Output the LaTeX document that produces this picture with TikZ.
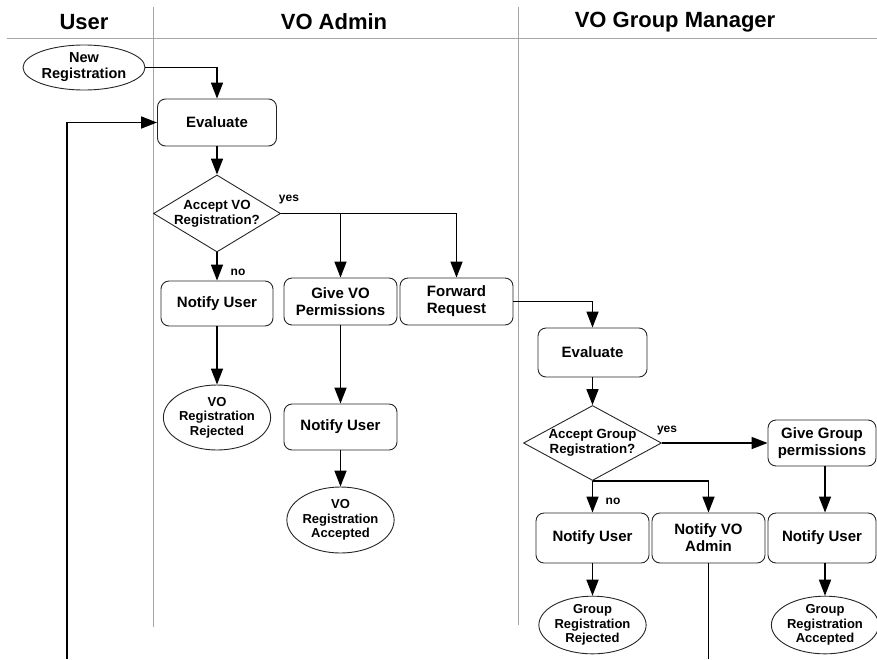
\documentclass[tikz,border=0pt]{standalone}
\usepackage{fontspec}
\setmainfont{Liberation Sans}
\usetikzlibrary{shapes.geometric,arrows.meta}
\tikzset{
  lane/.style={draw=black!35, line width=1pt},
  hdr/.style={font=\fontsize{22}{24}\selectfont\bfseries, inner sep=0pt},
  box/.style={draw=black!85, line width=0.9pt, rounded corners=8pt, align=center,
    font=\fontsize{15}{17}\selectfont\bfseries, inner sep=0pt},
  term/.style={draw=black!85, line width=0.9pt, ellipse, align=center,
    font=\fontsize{13}{14.5}\selectfont\bfseries, inner sep=0pt},
  dec/.style={draw=black!85, line width=0.9pt, diamond, inner sep=0pt},
  dtext/.style={align=center, font=\fontsize{13.3}{15}\selectfont\bfseries, inner sep=0pt},
  arr/.style={line width=1.6pt, -{Triangle[length=16pt,width=12pt]}},
  conn/.style={line width=1.6pt},
  lbl/.style={font=\fontsize{12}{14}\selectfont\bfseries, inner sep=0pt}
}
\begin{document}
\begin{tikzpicture}[x=1pt,y=-1pt]
\useasboundingbox (0,0) rectangle (877,659);
% lanes
\draw[lane] (7,38) -- (877,38);
\draw[lane] (153,7) -- (153,627);
\draw[lane] (518,7) -- (518,625);
\node[hdr] (hUser) at (84,22) {User};
\node[hdr] (hAdmin) at (334,22) {VO Admin};
\node[hdr] (hGroup) at (675,22) {VO Group Manager};
% VO admin lane
\node[term, minimum width=122pt, minimum height=45pt,
  font=\fontsize{14.5}{16}\selectfont\bfseries] (newreg) at (84,67.5) {New\\Registration};
\node[box, minimum width=119pt, minimum height=47pt] (eval1) at (217,122.5) {Evaluate};
\node[dec, minimum width=127pt, minimum height=77pt,
  label={[dtext]center:Accept VO\\Registration?}] (dec1) at (217,213.5) {};
\node[box, minimum width=112pt, minimum height=45pt] (notify1) at (217,303.5) {Notify User};
\node[box, minimum width=113pt, minimum height=47pt] (givevo) at (340.5,301.5) {Give VO\\Permissions};
\node[box, minimum width=113pt, minimum height=47pt] (forward) at (456.5,301.5) {Forward\\Request};
\node[term, minimum width=100pt, minimum height=65pt] (rej1) at (217,417.5) {VO\\Registration\\Rejected};
\node[box, minimum width=113pt, minimum height=46pt] (notify2) at (340.5,427) {Notify User};
\node[term, minimum width=100pt, minimum height=66pt] (acc1) at (340.5,520) {VO\\Registration\\Accepted};
% group manager lane
\node[box, minimum width=109pt, minimum height=49pt] (eval2) at (592.5,352.5) {Evaluate};
\node[dec, minimum width=138pt, minimum height=75pt,
  label={[dtext]center:Accept Group\\Registration?}] (dec2) at (592.5,443) {};
\node[box, minimum width=108pt, minimum height=46pt] (givegrp) at (822,443) {Give Group\\permissions};
\node[box, minimum width=113pt, minimum height=50pt] (notify3) at (592.5,538) {Notify User};
\node[box, minimum width=113pt, minimum height=50pt] (notifyvo) at (708.5,538) {Notify VO\\Admin};
\node[box, minimum width=108pt, minimum height=50pt] (notify4) at (822,538) {Notify User};
\node[term, minimum width=101pt, minimum height=56pt] (rej2) at (592.5,625) {Group\\Registration\\Rejected};
\node[term, minimum width=101pt, minimum height=56pt] (acc2) at (825,625) {Group\\Registration\\Accepted};
% connectors
\draw[arr] (newreg.east) -| (eval1.north);
\draw[arr] (eval1.south) -- (dec1.north);
\draw[arr] (dec1.south) -- (notify1.north);
\node[lbl] (no1) at (238,272) {no};
\draw[arr] (dec1.east) -| (givevo.north);
\draw[arr] (dec1.east) -| (forward.north);
\node[lbl] (yes1) at (289,200) {yes};
\draw[arr] (notify1.south) -- (rej1.north);
\draw[arr] (givevo.south) -- (notify2.north);
\draw[arr] (notify2.south) -- (acc1.north);
\draw[arr] (forward.east) -| (eval2.north);
\draw[arr] (eval2.south) -- (dec2.north);
\draw[arr] (dec2.east) -- (givegrp.west);
\node[lbl] (yes2) at (667,431) {yes};
\draw[arr] (dec2.south) -- (notify3.north);
\node[lbl] (no2) at (613,501) {no};
\draw[arr] (dec2.south) -| (notifyvo.north);
\draw[arr] ([xshift=3pt]givegrp.south) -- ([xshift=3pt]notify4.north);
\draw[arr] (notify3.south) -- (rej2.north);
\draw[arr] ([xshift=3pt]notify4.south) -- (acc2.north);
% loop back (continues beyond the lower edge)
\coordinate (loopR) at (708.5,659);
\coordinate (loopL) at (67,659);
\draw[conn] (notifyvo.south) -- (loopR);
\draw[arr] (loopL) |- (eval1.west);
\end{tikzpicture}
\end{document}
